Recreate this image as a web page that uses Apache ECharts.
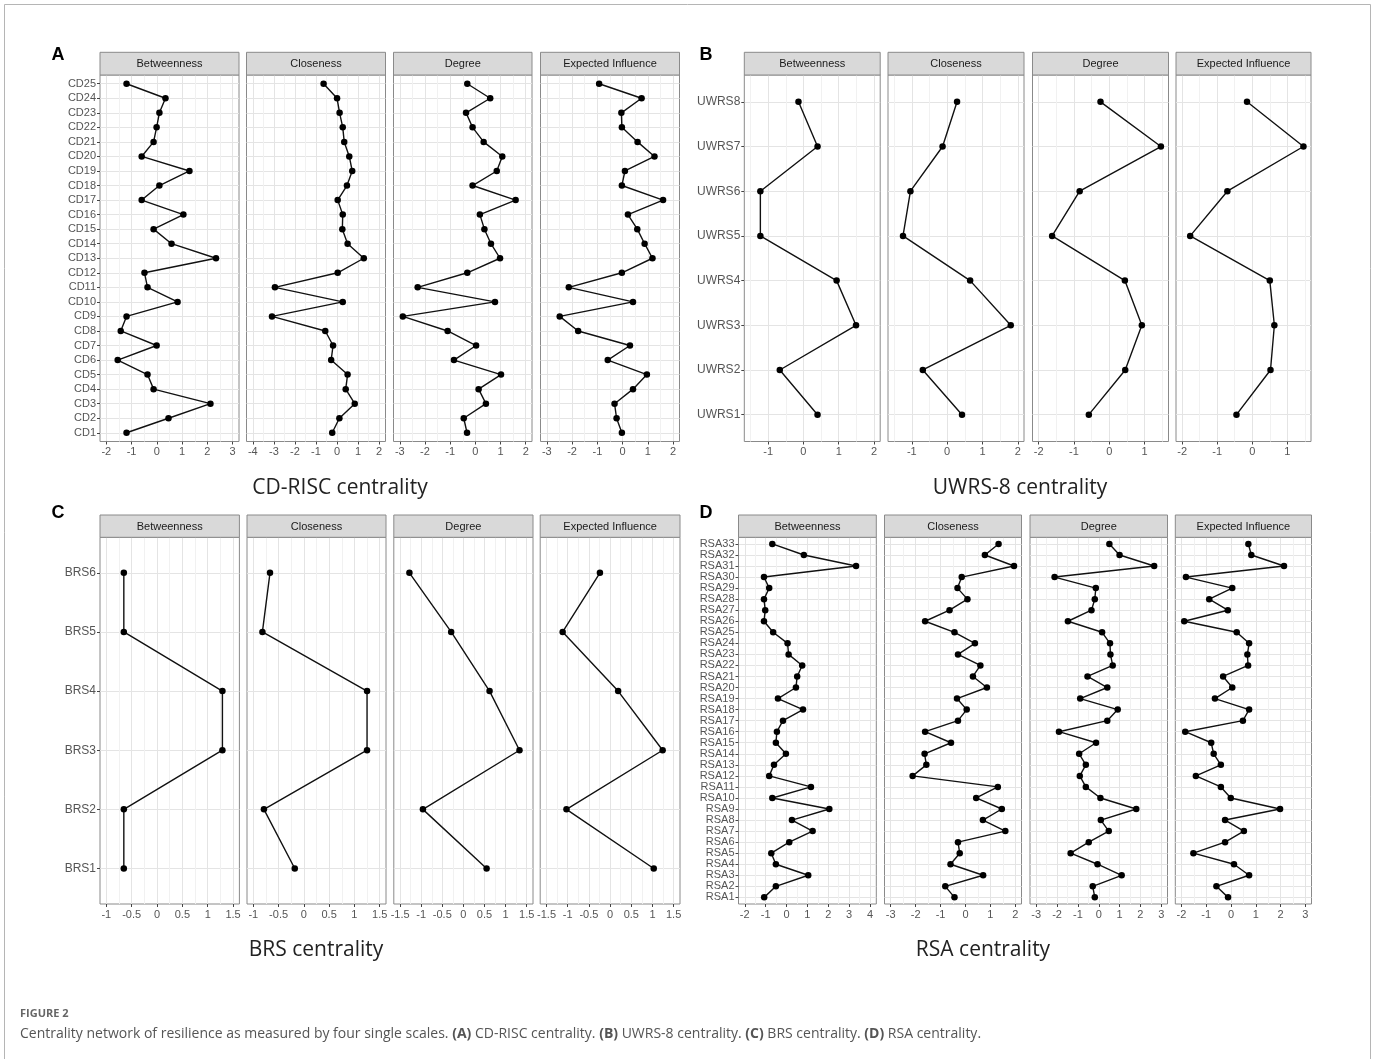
<!DOCTYPE html>
<html>
<head>
<meta charset="utf-8">
<script src="https://cdn.jsdelivr.net/npm/echarts@6/dist/echarts.min.js"></script>
<style>
  html, body { margin: 0; background: #fff; }
  #chart { width: 1375px; height: 1059px; }
</style>
</head>
<body>
<div id="chart"></div>
<script>
const measures = ['Betweenness', 'Closeness', 'Degree', 'Expected Influence']

// items, bottom to top
const cdItems = ['CD1', 'CD2', 'CD3', 'CD4', 'CD5', 'CD6', 'CD7', 'CD8', 'CD9', 'CD10', 'CD11', 'CD12', 'CD13',
  'CD14', 'CD15', 'CD16', 'CD17', 'CD18', 'CD19', 'CD20', 'CD21', 'CD22', 'CD23', 'CD24', 'CD25']
const uwrsItems = ['UWRS1', 'UWRS2', 'UWRS3', 'UWRS4', 'UWRS5', 'UWRS6', 'UWRS7', 'UWRS8']
const brsItems = ['BRS1', 'BRS2', 'BRS3', 'BRS4', 'BRS5', 'BRS6']
const rsaItems = ['RSA1', 'RSA2', 'RSA3', 'RSA4', 'RSA5', 'RSA6', 'RSA7', 'RSA8', 'RSA9', 'RSA10', 'RSA11',
  'RSA12', 'RSA13', 'RSA14', 'RSA15', 'RSA16', 'RSA17', 'RSA18', 'RSA19', 'RSA20', 'RSA21', 'RSA22',
  'RSA23', 'RSA24', 'RSA25', 'RSA26', 'RSA27', 'RSA28', 'RSA29', 'RSA30', 'RSA31', 'RSA32', 'RSA33']

// CD-RISC
const cdBetweenness = [-1.2, 0.46, 2.12, -0.13, -0.37, -1.55, -0.01, -1.43, -1.2, 0.82, -0.37, -0.49, 2.34,
  0.58, -0.13, 1.05, -0.6, 0.1, 1.29, -0.6, -0.13, -0.01, 0.1, 0.34, -1.2]
const cdCloseness = [-0.23, 0.11, 0.84, 0.41, 0.5, -0.28, -0.19, -0.56, -3.09, 0.27, -2.95, 0.03, 1.27,
  0.5, 0.25, 0.27, 0.03, 0.47, 0.72, 0.58, 0.34, 0.27, 0.12, 0.0, -0.64]
const cdDegree = [-0.33, -0.46, 0.42, 0.13, 1.02, -0.85, 0.03, -1.1, -2.88, 0.78, -2.29, -0.32, 0.98,
  0.62, 0.36, 0.18, 1.6, -0.11, 0.85, 1.07, 0.33, -0.11, -0.37, 0.59, -0.32]
const cdExpected = [-0.03, -0.24, -0.32, 0.41, 0.96, -0.59, 0.29, -1.76, -2.49, 0.41, -2.13, -0.03, 1.18,
  0.87, 0.58, 0.21, 1.6, -0.03, 0.09, 1.26, 0.59, -0.03, -0.05, 0.75, -0.93]

// UWRS-8
const uwrsBetweenness = [0.4, -0.67, 1.49, 0.94, -1.22, -1.22, 0.4, -0.14]
const uwrsCloseness = [0.42, -0.69, 1.8, 0.65, -1.25, -1.04, -0.13, 0.28]
const uwrsDegree = [-0.58, 0.45, 0.92, 0.44, -1.62, -0.84, 1.46, -0.25]
const uwrsExpected = [-0.45, 0.52, 0.63, 0.5, -1.77, -0.71, 1.46, -0.15]

// BRS
const brsBetweenness = [-0.655, -0.655, 1.29, 1.29, -0.655, -0.655]
const brsCloseness = [-0.18, -0.79, 1.25, 1.25, -0.82, -0.67]
const brsDegree = [0.55, -0.96, 1.33, 0.62, -0.29, -1.28]
const brsExpected = [1.03, -1.03, 1.24, 0.19, -1.12, -0.24]

// RSA
const rsaBetweenness = [-1.07, -0.51, 1.04, -0.51, -0.73, 0.13, 1.25, 0.26, 2.05, -0.68, 1.17, -0.83, -0.6,
  -0.03, -0.51, -0.46, -0.17, 0.79, -0.41, 0.45, 0.51, 0.75, 0.1, 0.05, -0.64, -1.08, -1.02, -1.08, -0.83,
  -1.08, 3.33, 0.83, -0.68]
const rsaCloseness = [-0.44, -0.81, 0.71, -0.6, -0.23, -0.3, 1.6, 0.7, 1.46, 0.43, 1.3, -2.12, -1.57,
  -1.64, -0.58, -1.62, -0.3, 0.05, -0.34, 0.86, 0.3, 0.6, -0.3, 0.38, -0.44, -1.62, -0.64, 0.08, -0.32,
  -0.15, 1.95, 0.78, 1.33]
const rsaDegree = [-0.19, -0.29, 1.1, -0.06, -1.35, -0.48, 0.48, 0.1, 1.8, 0.08, -0.62, -0.91, -0.62,
  -0.94, -0.13, -1.91, 0.41, 0.91, -0.89, 0.41, -0.54, 0.67, 0.56, 0.54, 0.16, -1.48, -0.35, -0.19, -0.14,
  -2.12, 2.66, 1.0, 0.51]
const rsaExpected = [-0.12, -0.59, 0.73, 0.12, -1.52, -0.24, 0.52, -0.24, 1.98, -0.01, -0.41, -1.42, -0.41,
  -0.7, -0.8, -1.85, 0.48, 0.73, -0.65, 0.05, -0.32, 0.69, 0.66, 0.73, 0.23, -1.89, -0.13, -0.88, 0.05,
  -1.82, 2.14, 0.82, 0.7]

// x tick labels per facet
const ticksA = [[-2, -1, 0, 1, 2, 3], [-4, -3, -2, -1, 0, 1, 2], [-3, -2, -1, 0, 1, 2], [-3, -2, -1, 0, 1, 2]]
const ticksB = [[-1, 0, 1, 2], [-1, 0, 1, 2], [-2, -1, 0, 1], [-2, -1, 0, 1]]
const ticksC = [[-1, -0.5, 0, 0.5, 1, 1.5], [-1, -0.5, 0, 0.5, 1, 1.5],
  [-1.5, -1, -0.5, 0, 0.5, 1, 1.5], [-1.5, -1, -0.5, 0, 0.5, 1, 1.5]]
const ticksD = [[-2, -1, 0, 1, 2, 3, 4], [-3, -2, -1, 0, 1, 2], [-3, -2, -1, 0, 1, 2, 3], [-2, -1, 0, 1, 2, 3]]

const panels = [
  { letter: 'A', title: 'CD-RISC centrality', items: cdItems, labelSize: 11,
    values: [cdBetweenness, cdCloseness, cdDegree, cdExpected], ticks: ticksA, step: 1,
    ext: [[-2.25, 3.25], [-4.3, 2.3], [-3.25, 2.25], [-3.25, 2.25]],
    xs: [[100, 239], [246.5, 385.5], [393.5, 532], [540.5, 679.5]],
    top: 75, bottom: 441.5, strip: 52.3, letterPos: [58, 55], titlePos: [340, 488] },
  { letter: 'B', title: 'UWRS-8 centrality', items: uwrsItems, labelSize: 12,
    values: [uwrsBetweenness, uwrsCloseness, uwrsDegree, uwrsExpected], ticks: ticksB, step: 1,
    ext: [[-1.675, 2.175], [-1.675, 2.175], [-2.175, 1.675], [-2.175, 1.675]],
    xs: [[744.3, 880.2], [888, 1024], [1032.5, 1168.5], [1176, 1311]],
    top: 75, bottom: 441.5, strip: 52.3, letterPos: [706, 55], titlePos: [1020, 488] },
  { letter: 'C', title: 'BRS centrality', items: brsItems, labelSize: 12,
    values: [brsBetweenness, brsCloseness, brsDegree, brsExpected], ticks: ticksC, step: 0.5,
    ext: [[-1.125, 1.625], [-1.125, 1.625], [-1.65, 1.65], [-1.65, 1.65]],
    xs: [[100, 239.4], [247, 386], [393.8, 533], [540.2, 680]],
    top: 537.3, bottom: 904, strip: 515, letterPos: [58, 513], titlePos: [316, 950] },
  { letter: 'D', title: 'RSA centrality', items: rsaItems, labelSize: 11,
    values: [rsaBetweenness, rsaCloseness, rsaDegree, rsaExpected], ticks: ticksD, step: 1,
    ext: [[-2.3, 4.3], [-3.25, 2.25], [-3.3, 3.3], [-2.25, 3.25]],
    xs: [[738.5, 876.3], [884.5, 1021.5], [1030, 1167.5], [1175.3, 1311.5]],
    top: 537.3, bottom: 904, strip: 515, letterPos: [706, 513], titlePos: [983, 950] },
]

const axisFont = 'Liberation Sans, Arial, sans-serif'
const grids = [], xAxes = [], yAxes = [], series = [], graphics = []

// outer frame of the figure
graphics.push({ type: 'rect', shape: { x: 4.5, y: 4.5, width: 1366, height: 1070 },
  style: { fill: 'none', stroke: '#b5b5b5', lineWidth: 1 }, z: 0 })

panels.forEach((p) => {
  const n = p.items.length
  const idx = p.items.map((_, i) => i + 1)
  p.values.forEach((vals, f) => {
    const g = grids.length
    const [x0, x1] = p.xs[f]
    grids.push({ left: x0, top: p.top, width: x1 - x0, height: p.bottom - p.top,
      show: true, backgroundColor: '#fff', borderColor: '#8a8a8a', borderWidth: 1 })
    xAxes.push({
      type: 'value', gridIndex: g, position: 'bottom', min: p.ext[f][0], max: p.ext[f][1],
      minInterval: p.step, maxInterval: p.step,
      axisLine: { show: false, onZero: false },
      axisTick: { show: true, length: 3, customValues: p.ticks[f], lineStyle: { color: '#444' } },
      axisLabel: { customValues: p.ticks[f], color: '#555', fontSize: 11, fontFamily: axisFont, margin: 5 },
      splitLine: { show: true, lineStyle: { color: '#e4e4e4', width: 1 } },
      minorTick: { show: false, splitNumber: 2 },
      minorSplitLine: { show: true, lineStyle: { color: '#f1f1f1', width: 1 } },
    })
    const first = f === 0
    yAxes.push({
      type: 'value', gridIndex: g, position: 'left', min: 0.4, max: n + 0.6, minInterval: 1, maxInterval: 1,
      axisLine: { show: false, onZero: false },
      axisTick: { show: first, length: 3, customValues: idx, lineStyle: { color: '#444' } },
      axisLabel: { show: first, customValues: idx, formatter: (v) => p.items[v - 1] || '',
        color: '#555', fontSize: p.labelSize, fontFamily: axisFont, margin: 4 },
      splitLine: { show: true, lineStyle: { color: '#e4e4e4', width: 1 } },
    })
    series.push({
      type: 'line', xAxisIndex: g, yAxisIndex: g,
      data: vals.map((v, i) => [v, i + 1]),
      symbol: 'circle', symbolSize: 6.5, showSymbol: true,
      lineStyle: { color: '#111', width: 1.4 }, itemStyle: { color: '#000' },
      silent: true, animation: false, z: 3,
    })
    // facet strip
    graphics.push({ type: 'rect', shape: { x: x0, y: p.strip, width: x1 - x0, height: p.top - p.strip },
      style: { fill: '#d9d9d9', stroke: '#8a8a8a', lineWidth: 1 }, z: 5 })
    graphics.push({ type: 'text', x: (x0 + x1) / 2, y: (p.strip + p.top) / 2 + 0.5, z: 6,
      style: { text: measures[f], fill: '#1a1a1a', fontSize: 11, fontFamily: axisFont,
        align: 'center', verticalAlign: 'middle' } })
  })
  graphics.push({ type: 'text', x: p.letterPos[0], y: p.letterPos[1], z: 6,
    style: { text: p.letter, fill: '#000', fontSize: 18, fontWeight: 'bold', fontFamily: axisFont,
      align: 'center', verticalAlign: 'middle' } })
  graphics.push({ type: 'text', x: p.titlePos[0], y: p.titlePos[1], z: 6,
    style: { text: p.title, fill: '#222', fontSize: 21, fontFamily: 'Open Sans, sans-serif',
      align: 'center', verticalAlign: 'middle' } })
})

graphics.push({ type: 'text', x: 20, y: 1014, z: 6,
  style: { text: 'FIGURE 2', fill: '#666', fontSize: 11, fontWeight: 'bold',
    fontFamily: 'Open Sans, sans-serif', verticalAlign: 'middle' } })
graphics.push({ type: 'text', x: 20, y: 1034, z: 6,
  style: {
    text: 'Centrality network of resilience as measured by four single scales. {b|(A)} CD-RISC centrality. ' +
      '{b|(B)} UWRS-8 centrality. {b|(C)} BRS centrality. {b|(D)} RSA centrality.',
    fill: '#555', fontSize: 14, fontFamily: 'Open Sans, sans-serif', verticalAlign: 'middle',
    rich: { b: { fontWeight: 'bold', fill: '#555', fontSize: 14, fontFamily: 'Open Sans, sans-serif' } },
  } })

const chart = echarts.init(document.getElementById('chart'), null, { renderer: 'canvas' })
chart.setOption({
  backgroundColor: '#fff',
  animation: false,
  grid: grids,
  xAxis: xAxes,
  yAxis: yAxes,
  series,
  graphic: graphics,
})
</script>
</body>
</html>
